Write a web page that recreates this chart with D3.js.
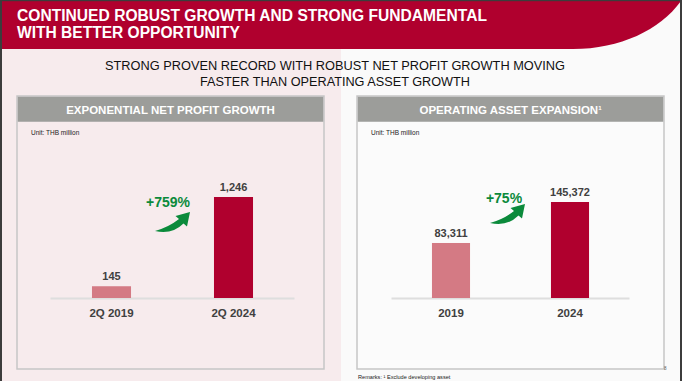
<!DOCTYPE html>
<html>
<head>
<meta charset="utf-8">
<script src="https://cdn.jsdelivr.net/npm/d3@7"></script>
<style>
html,body{margin:0;padding:0;background:#fafafa;}
svg{display:block;font-family:"Liberation Sans",Arial,sans-serif;}
</style>
</head>
<body>
<svg id="chart" width="682" height="381"></svg>
<script>
// ---- data ----
const titleLines = ["CONTINUED ROBUST GROWTH AND STRONG FUNDAMENTAL", "WITH BETTER OPPORTUNITY"];
const subtitleLines = ["STRONG PROVEN RECORD WITH ROBUST NET PROFIT GROWTH MOVING", "FASTER THAN OPERATING ASSET GROWTH"];
const panelTitles = ["EXPONENTIAL NET PROFIT GROWTH", "OPERATING ASSET EXPANSION"];
const unitLabel = "Unit: THB million";
const profitCategories = ["2Q 2019", "2Q 2024"];
const profitValues = [145, 1246];
const assetCategories = ["2019", "2024"];
const assetValues = [83311, 145372];
const growthLabels = ["+759%", "+75%"];
const remarkText = "Remarks: \u00B9 Exclude developing asset";

const RED = "#b0002e", PINK_BAR = "#d47a84", GREEN = "#0b8a3b", GREY_HDR = "#9c9d9a";
const svg = d3.select("#chart");

// backgrounds
svg.append("rect").attr("x",0).attr("y",0).attr("width",682).attr("height",381).attr("fill","#fafafa");
svg.append("rect").attr("x",0).attr("y",0).attr("width",341).attr("height",381).attr("fill","#f7ebed");

// red header
svg.append("path")
  .attr("d","M0,0 H681 V1 C660,30 620,49 573,49 H0 Z")
  .attr("fill",RED);
// frame
svg.append("rect").attr("x",0).attr("y",0).attr("width",682).attr("height",1.2).attr("fill","#3c3c3c");
svg.append("rect").attr("x",0).attr("y",0).attr("width",2).attr("height",381).attr("fill","#3c3c3c");
svg.append("rect").attr("x",680).attr("y",0).attr("width",2).attr("height",381).attr("fill","#3c3c3c");

// title
const titleLen = [470, 223];
svg.selectAll("text.title").data(titleLines).join("text")
  .attr("class","title")
  .attr("x",17).attr("y",(d,i)=>20.5+i*17.5)
  .attr("fill","#fff").attr("font-weight","bold").attr("font-size",15.8)
  .attr("textLength",(d,i)=>titleLen[i]).attr("lengthAdjust","spacingAndGlyphs")
  .text(d=>d);

// subtitle
const subLen = [460, 270];
svg.selectAll("text.sub").data(subtitleLines).join("text")
  .attr("class","sub")
  .attr("x",335).attr("y",(d,i)=>70+i*15.5)
  .attr("text-anchor","middle")
  .attr("fill","#111").attr("font-size",12.5)
  .attr("textLength",(d,i)=>subLen[i]).attr("lengthAdjust","spacingAndGlyphs")
  .text(d=>d);

// panels
const panels = [
  {x0:17, bg:"#f7ebed", title:panelTitles[0], sup:false, cats:profitCategories, vals:profitValues,
   plot:[33.5,277.5], yTopPx:197, growth:growthLabels[0], gx:168, gy:207, ax:155, ay:231, fmt:d3.format(",")},
  {x0:357, bg:"#fbfbfb", title:panelTitles[1], sup:true, cats:assetCategories, vals:assetValues,
   plot:[34.5,272.5], yTopPx:202, growth:growthLabels[1], gx:504, gy:202.5, ax:490, ay:223, fmt:d3.format(",")}
];
const boxW = 307, boxTop = 96, boxBottom = 369, hdrH = 25, baseY = 298;

panels.forEach((p,pi)=>{
  const g = svg.append("g");
  g.append("rect").attr("x",p.x0).attr("y",boxTop).attr("width",boxW).attr("height",boxBottom-boxTop)
    .attr("fill",p.bg).attr("stroke","#c6c6c6").attr("stroke-width",1.5);
  g.append("rect").attr("x",p.x0+0.75).attr("y",boxTop+0.75).attr("width",boxW-1.5).attr("height",hdrH)
    .attr("fill",GREY_HDR);
  const ht = g.append("text").attr("x",p.x0+boxW/2).attr("y",boxTop+17.5)
    .attr("text-anchor","middle").attr("fill","#fff").attr("font-weight","bold").attr("font-size",11.5)
    .text(p.title);
  if(p.sup){
    ht.append("tspan").attr("font-size",6).attr("dy",-4).text("1");
  }
  g.append("text").attr("x",p.x0+14).attr("y",134.5).attr("font-size",6.5).attr("fill","#222").text(unitLabel);

  const x = d3.scaleBand().domain(p.cats).range([p.x0+p.plot[0], p.x0+p.plot[1]])
    .paddingInner(0.68).paddingOuter(0.34);
  const maxV = d3.max(p.vals);
  const y = d3.scaleLinear().domain([0,maxV]).range([baseY,p.yTopPx]);

  // baseline
  g.append("line").attr("x1",x.range()[0]).attr("x2",x.range()[1]).attr("y1",baseY+0.5).attr("y2",baseY+0.5)
    .attr("stroke","#dedede").attr("stroke-width",2);

  g.selectAll("rect.bar").data(p.vals).join("rect")
    .attr("class","bar")
    .attr("x",(d,i)=>x(p.cats[i])).attr("width",x.bandwidth())
    .attr("y",d=>y(d)).attr("height",d=>baseY-y(d))
    .attr("fill",(d,i)=>i===0?PINK_BAR:RED);

  g.selectAll("text.val").data(p.vals).join("text")
    .attr("class","val")
    .attr("x",(d,i)=>x(p.cats[i])+x.bandwidth()/2).attr("y",d=>y(d)-6)
    .attr("text-anchor","middle").attr("font-weight","bold").attr("font-size",11).attr("fill","#404040")
    .text(d=>p.fmt(d));

  // category axis labels
  const axis = d3.axisBottom(x).tickSize(0).tickPadding(0);
  const ag = g.append("g").attr("transform",`translate(0,${baseY+19})`).call(axis);
  ag.select(".domain").remove();
  ag.selectAll("text").attr("font-weight","bold").attr("font-size",11.5).attr("fill","#404040")
    .attr("font-family","Liberation Sans, Arial, sans-serif").attr("dy",0);

  // growth label
  g.append("text").attr("x",p.gx).attr("y",p.gy).attr("text-anchor","middle")
    .attr("font-weight","bold").attr("font-size",14).attr("fill",GREEN).text(p.growth);
  // curved arrow
  g.append("path")
    .attr("transform",`translate(${p.ax},${p.ay})`)
    .attr("d","M0,0 Q14,-4 24,-12 L20.5,-15 L35,-19 L32,-4.5 L28.5,-7.5 Q17,4 0,0 Z")
    .attr("fill",GREEN);
});

// remarks
svg.append("text").attr("x",358).attr("y",378.5).attr("font-size",5.6).attr("fill","#222").text(remarkText);
svg.append("text").attr("x",664).attr("y",370).attr("font-size",4.5).attr("fill","#555").text("8");
</script>
</body>
</html>
